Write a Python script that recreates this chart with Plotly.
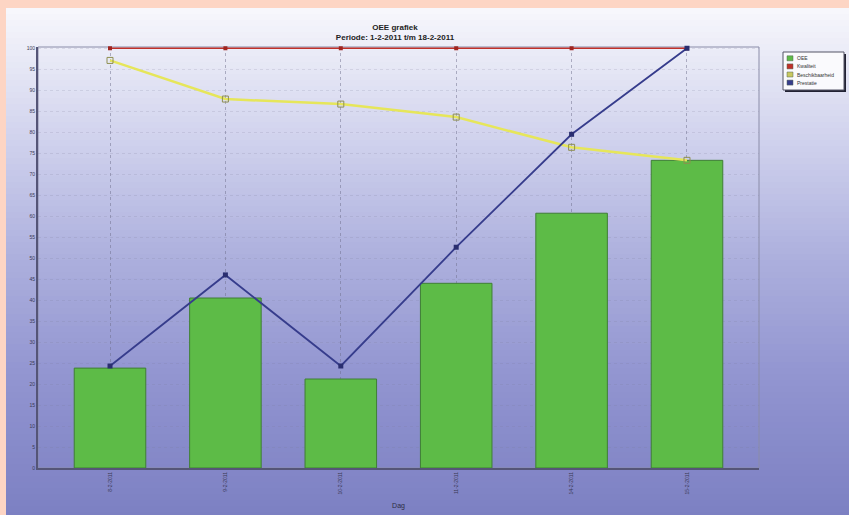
import plotly.graph_objects as go

# ---- data ----
dagen = ["8-2-2011", "9-2-2011", "10-2-2011", "11-2-2011", "14-2-2011", "15-2-2011"]
oee = [23.8, 40.5, 21.2, 44.0, 60.7, 73.3]
kwaliteit = [100, 100, 100, 100, 100, 100]
beschikbaarheid = [97.1, 87.9, 86.7, 83.6, 76.4, 73.3]
prestatie = [24.3, 46.0, 24.3, 52.6, 79.5, 100.0]
series_names = ["OEE", "Kwaliteit", "Beschikbaarheid", "Prestatie"]
y_ticks = list(range(0, 101, 5))

W, H = 849, 515
L, T = 38, 47
plot_w, plot_h = 721, 421
R = W - L - plot_w
B = H - T - plot_h

PEACH = "#FDD5C4"
GREEN, RED, YELLOW, BLUE = "#5DBB47", "#C0302A", "#E6E65A", "#363C8C"

fig = go.Figure()
fig.add_trace(go.Bar(
    x=dagen, y=oee, name=series_names[0],
    marker=dict(color=GREEN, line=dict(color="#3F7F35", width=1)),
    width=0.62,
))
fig.add_trace(go.Scatter(
    x=dagen, y=kwaliteit, name=series_names[1], mode="lines+markers", cliponaxis=False,
    line=dict(color=RED, width=1.5),
    marker=dict(symbol="square", size=4, color="#A02520"),
))
fig.add_trace(go.Scatter(
    x=dagen, y=beschikbaarheid, name=series_names[2], mode="lines+markers", cliponaxis=False,
    line=dict(color=YELLOW, width=2.5),
    marker=dict(symbol="square-open", size=6, color="#8F8F50", line=dict(width=1)),
))
fig.add_trace(go.Scatter(
    x=dagen, y=prestatie, name=series_names[3], mode="lines+markers", cliponaxis=False,
    line=dict(color=BLUE, width=1.8),
    marker=dict(symbol="square", size=5, color="#2A2E70"),
))


def py2paper(py):  # window pixel y -> paper
    return (H - B - py) / plot_h


def px2paper(px):  # window pixel x -> paper
    return (px - L) / plot_w


# gradient background via thin bands
stops = [(0, (250, 250, 253)), (60, (232, 233, 246)), (150, (205, 207, 236)),
         (260, (172, 175, 221)), (380, (145, 148, 208)), (530, (122, 126, 193))]


def col_at(py):
    for (y0, c0), (y1, c1) in zip(stops[:-1], stops[1:]):
        if y0 <= py <= y1:
            t = (py - y0) / (y1 - y0)
            return "rgb(%d,%d,%d)" % tuple(round(a + (b - a) * t) for a, b in zip(c0, c1))
    return "rgb(%d,%d,%d)" % stops[-1][1]


shapes = []
band = 6
py = 8
while py < H + 8:
    y1 = py + band
    shapes.append(dict(type="rect", xref="paper", yref="paper", layer="below",
                       x0=px2paper(6), x1=px2paper(W + 10),
                       y0=py2paper(y1 + 0.5), y1=py2paper(py),
                       fillcolor=col_at((py + y1) / 2), line=dict(width=0)))
    py = y1
# plot frame
shapes.append(dict(type="rect", xref="paper", yref="paper", x0=0, x1=1, y0=0, y1=1,
                   line=dict(color="#8A8CA8", width=1), layer="below"))

# legend (drawn by hand to match the compact original)
lx0, lx1, ly0, ly1 = 783, 844, 52, 90
annotations = []
shapes.append(dict(type="rect", xref="paper", yref="paper",
                   x0=px2paper(lx0 + 2), x1=px2paper(lx1 + 2), y0=py2paper(ly1 + 2), y1=py2paper(ly0 + 2),
                   fillcolor="#222233", line=dict(width=0)))
shapes.append(dict(type="rect", xref="paper", yref="paper",
                   x0=px2paper(lx0), x1=px2paper(lx1), y0=py2paper(ly1), y1=py2paper(ly0),
                   fillcolor="#FAFAFD", line=dict(color="#555566", width=1)))
leg_colors = [GREEN, RED, "#C8C860", BLUE]
for i, (nm, c) in enumerate(zip(series_names, leg_colors)):
    ry = 58.3 + i * 8.1
    shapes.append(dict(type="rect", xref="paper", yref="paper",
                       x0=px2paper(787), x1=px2paper(793), y0=py2paper(ry + 2.5), y1=py2paper(ry - 2.5),
                       fillcolor=c, line=dict(color="#556655", width=0.5)))
    annotations.append(dict(text=nm, xref="paper", yref="paper", x=px2paper(795), y=py2paper(ry),
                            xanchor="left", yanchor="middle", showarrow=False,
                            font=dict(size=5, color="#333333")))

fig.update_layout(
    width=W, height=H,
    margin=dict(l=L, r=R, t=T, b=B),
    paper_bgcolor=PEACH,
    plot_bgcolor="rgba(0,0,0,0)",
    shapes=shapes,
    annotations=annotations,
    font=dict(family="Liberation Sans, Arial, sans-serif", color="#333344"),
    title=dict(text="<b>OEE grafiek<br>Periode: 1-2-2011 t/m 18-2-2011</b>",
               x=px2paper(395), xref="paper", xanchor="center",
               y=1 - 30 / H, yanchor="top", font=dict(size=8, color="#222222")),
    showlegend=False,
    xaxis=dict(
        range=[-0.624, 5.624], tickangle=-90, tickfont=dict(size=5, color="#3A3A55"),
        showgrid=True, gridcolor="rgba(110,110,140,0.5)", griddash="dot", gridwidth=1,
        showline=True, linecolor="#555577", linewidth=2, automargin=False,
        title=dict(text="Dag", font=dict(size=7, color="#2E2E44"), standoff=10),
        ticks="", fixedrange=True,
    ),
    yaxis=dict(
        range=[0, 100.3], tickvals=y_ticks, ticktext=[str(v) for v in y_ticks],
        tickfont=dict(size=5, color="#3A3A55"), automargin=False,
        showgrid=True, gridcolor="rgba(120,120,150,0.18)", griddash="dot", gridwidth=1,
        showline=True, linecolor="#555577", linewidth=2, zeroline=False,
        ticks="", fixedrange=True,
    ),
)

fig.write_html(
    "out.html",
    config={"displayModeBar": False},
    post_script=("document.body.style.margin='0';"
                 "document.body.style.overflow='hidden';"
                 "document.body.style.background='%s';" % PEACH),
)
